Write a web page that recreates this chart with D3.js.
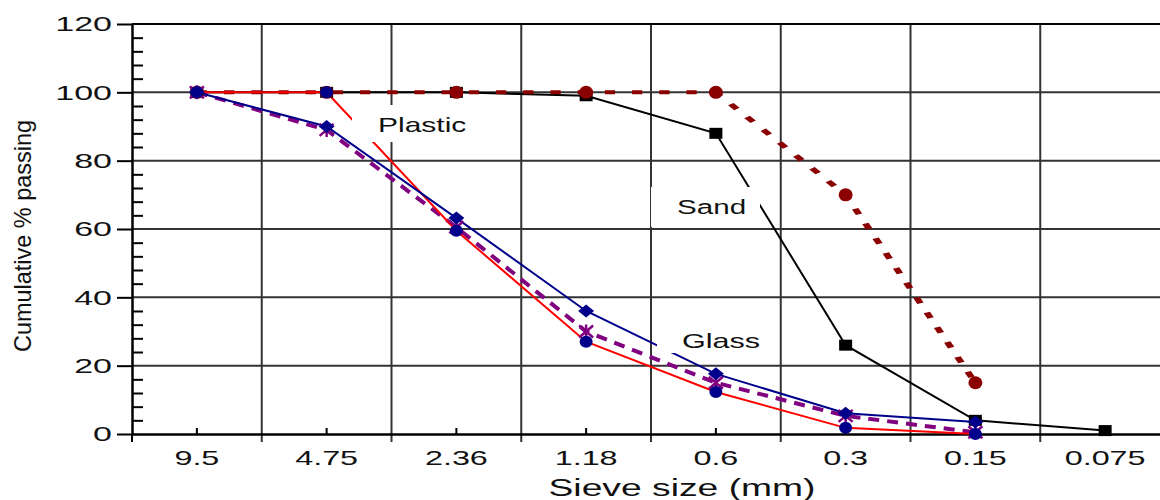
<!DOCTYPE html>
<html>
<head>
<meta charset="utf-8">
<script src="https://cdn.jsdelivr.net/npm/d3@7"></script>
<style>
  body { margin: 0; background: #fff; }
  text { font-family: "Liberation Sans", Arial, Helvetica, sans-serif; fill: #111; }
</style>
</head>
<body>
<div id="viz"></div>
<script>
// sieve sizes (mm) along the x axis
var sieveSizes = ["9.5", "4.75", "2.36", "1.18", "0.6", "0.3", "0.15", "0.075"];
var yTicks = [0, 20, 40, 60, 80, 100, 120];

// cumulative % passing
var sandValues = [100, 100, 100, 99, 88, 26, 4, 1];
var darkRedValues = [100, 100, 100, 100, 100, 70, 15];
var mixValues = [100, 89, 60.5, 30, 15, 5.3, 0.5];
var plasticValues = [100, 100, 59.5, 27, 12.3, 1.8, 0];
var glassValues = [100, 90, 63.2, 36, 17.6, 6.1, 3.5];

var labelNames = ["Plastic", "Sand", "Glass"];

var width = 1160, height = 500;
var plotLeft = 132, plotRight = 1170, plotTop = 24, plotBottom = 434;
var stretch = 1.7; // the dotted curve looks stretched sideways

var svg = d3.select("#viz").append("svg")
  .attr("width", width)
  .attr("height", height);

var x = d3.scaleBand().domain(sieveSizes).range([plotLeft, plotRight]).paddingInner(0).paddingOuter(0);
var y = d3.scaleLinear().domain([0, 120]).range([plotBottom, plotTop]);
var cx = function (s) { return x(s) + x.bandwidth() / 2; };

// grid
var grid = svg.append("g");
grid.selectAll(".hgrid")
  .data(yTicks.filter(function (d) { return d > 0 && d < 120; }))
  .enter().append("line")
  .attr("x1", plotLeft).attr("x2", width)
  .attr("y1", function (d) { return y(d); })
  .attr("y2", function (d) { return y(d); })
  .style("stroke", "#333").style("stroke-width", 2);

grid.selectAll(".vgrid")
  .data(sieveSizes.slice(1))
  .enter().append("line")
  .attr("x1", function (d) { return x(d); })
  .attr("x2", function (d) { return x(d); })
  .attr("y1", plotTop).attr("y2", plotBottom + 8)
  .style("stroke", "#333").style("stroke-width", 2);

// top border
svg.append("line")
  .attr("x1", plotLeft).attr("x2", width)
  .attr("y1", y(120)).attr("y2", y(120))
  .style("stroke", "#000").style("stroke-width", 2);

// y axis
var yAxis = svg.append("g")
  .attr("transform", "translate(" + plotLeft + ",0)")
  .call(d3.axisLeft(y).tickValues(yTicks).tickSize(15).tickPadding(5).tickSizeOuter(0));
yAxis.selectAll("text")
  .attr("x", -20 / 1.62)
  .attr("transform", "scale(1.62,1)")
  .style("font-size", "21px");

var minor = d3.range(0, 121, 4).filter(function (d) { return d % 20 != 0; });
svg.append("g")
  .attr("transform", "translate(" + plotLeft + ",0)")
  .call(d3.axisRight(y).tickValues(minor).tickSize(11).tickFormat("").tickSizeOuter(0))
  .select(".domain").remove();

// x axis
var xAxis = svg.append("g")
  .attr("transform", "translate(0," + plotBottom + ")")
  .call(d3.axisBottom(x).tickSize(-6).tickPadding(16).tickSizeOuter(0));
xAxis.selectAll("text")
  .attr("transform", "scale(1.54,1)")
  .style("font-size", "21px");
// tick at the left end of the x axis
svg.append("line")
  .attr("x1", plotLeft).attr("x2", plotLeft)
  .attr("y1", plotBottom).attr("y2", plotBottom + 8)
  .style("stroke", "#000").style("stroke-width", 2);

svg.selectAll(".domain").style("stroke", "#000").style("stroke-width", 2.5);
svg.selectAll(".tick line").style("stroke", "#000").style("stroke-width", 2);

// axis titles
svg.append("text")
  .attr("transform", "translate(682,496) scale(1.62,1)")
  .attr("text-anchor", "middle")
  .style("font-size", "23px")
  .text("Sieve size (mm)");

svg.append("text")
  .attr("transform", "translate(31,236) rotate(-90)")
  .attr("text-anchor", "middle")
  .attr("textLength", 232)
  .attr("lengthAdjust", "spacingAndGlyphs")
  .style("font-size", "24px")
  .text("Cumulative % passing");

// lines
function seriesPoints(vals) {
  return vals.map(function (v, i) { return { s: sieveSizes[i], v: v }; });
}
var line = d3.line().x(function (d) { return cx(d.s); }).y(function (d) { return y(d.v); });
// same line drawn in a squeezed frame, then stretched back, so dashes stretch too
var lineSq = d3.line().x(function (d) { return cx(d.s) / stretch; }).y(function (d) { return y(d.v); });

var series = [
  { vals: sandValues, color: "#000", w: 2, dash: null, sq: false },
  { vals: darkRedValues, color: "#8b0000", w: 4, dash: "6,10", sq: true },
  { vals: mixValues, color: "#800080", w: 4, dash: "11,8", sq: false },
  { vals: plasticValues, color: "#ff0000", w: 2, dash: null, sq: false },
  { vals: glassValues, color: "#00008b", w: 2, dash: null, sq: false }
];
series.forEach(function (s) {
  var g = svg.append("g");
  if (s.sq) g.attr("transform", "scale(" + stretch + ",1)");
  g.append("path")
    .datum(seriesPoints(s.vals))
    .attr("d", s.sq ? lineSq : line)
    .style("fill", "none")
    .style("stroke", s.color)
    .style("stroke-width", s.w)
    .style("stroke-dasharray", s.dash);
});

// markers
svg.selectAll(".sandpt")
  .data(seriesPoints(sandValues))
  .enter().append("rect")
  .attr("x", function (d) { return cx(d.s) - 6.5; })
  .attr("y", function (d) { return y(d.v) - 5.5; })
  .attr("width", 13).attr("height", 11)
  .style("fill", "#000");

svg.selectAll(".redpt")
  .data(seriesPoints(darkRedValues))
  .enter().append("ellipse")
  .attr("cx", function (d) { return cx(d.s); })
  .attr("cy", function (d) { return y(d.v); })
  .attr("rx", 7).attr("ry", 6.5)
  .style("fill", "#8b0000");

svg.selectAll(".mixpt")
  .data(seriesPoints(mixValues))
  .enter().append("path")
  .attr("transform", function (d) { return "translate(" + cx(d.s) + "," + y(d.v) + ")"; })
  .attr("d", "M-7,-6L7,6M-7,6L7,-6M0,-7L0,7")
  .style("fill", "none")
  .style("stroke", "#800080")
  .style("stroke-width", 2.5);

svg.selectAll(".plasticpt")
  .data(seriesPoints(plasticValues))
  .enter().append("ellipse")
  .attr("cx", function (d) { return cx(d.s); })
  .attr("cy", function (d) { return y(d.v); })
  .attr("rx", 6.5).attr("ry", 6)
  .style("fill", "#00008b");

svg.selectAll(".glasspt")
  .data(seriesPoints(glassValues))
  .enter().append("path")
  .attr("transform", function (d) { return "translate(" + cx(d.s) + "," + y(d.v) + ")"; })
  .attr("d", "M-8,0L0,-6.5L8,0L0,6.5Z")
  .style("fill", "#00008b");

// curve labels on white boxes
var boxes = [
  { x: 352, y: 105, w: 126, h: 37, tx: 378, ty: 132, sx: 1.5 },
  { x: 651, y: 187, w: 109, h: 40, tx: 677, ty: 214, sx: 1.48 },
  { x: 657, y: 326, w: 115, h: 27, tx: 682, ty: 348, sx: 1.53 }
];
boxes.forEach(function (b, i) {
  svg.append("rect")
    .attr("x", b.x).attr("y", b.y)
    .attr("width", b.w).attr("height", b.h)
    .style("fill", "#fff");
  svg.append("text")
    .attr("transform", "translate(" + b.tx + "," + b.ty + ") scale(" + b.sx + ",1)")
    .style("font-size", "20px")
    .text(labelNames[i]);
});
</script>
</body>
</html>
